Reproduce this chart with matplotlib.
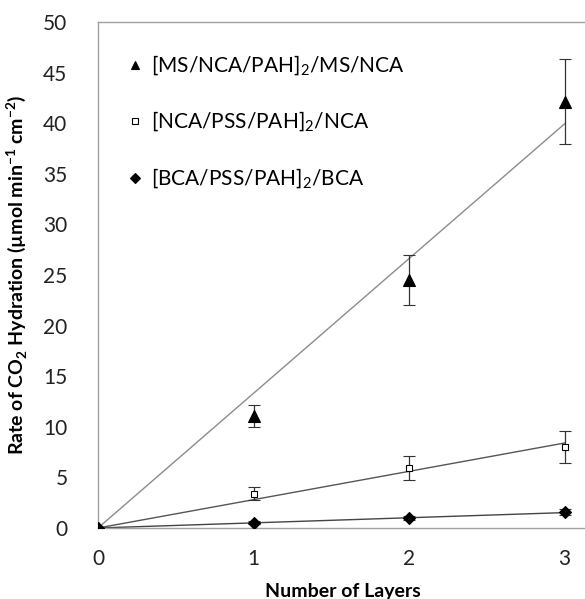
import numpy as np
import matplotlib.pyplot as plt
from matplotlib.lines import Line2D

plt.rcParams['font.family'] = ['Lato', 'DejaVu Sans']
plt.rcParams['mathtext.fontset'] = 'custom'
plt.rcParams['mathtext.rm'] = 'Lato'
plt.rcParams['mathtext.bf'] = 'Lato:bold'

layers = np.array([0, 1, 2, 3])
ms_nca = np.array([0, 11.1, 24.5, 42.1])
ms_nca_err = np.array([0, 1.1, 2.45, 4.2])
nca = np.array([0, 3.4, 5.9, 8.0])
nca_err = np.array([0, 0.65, 1.2, 1.55])
bca = np.array([0, 0.53, 0.96, 1.55])
bca_err = np.array([0, 0.15, 0.2, 0.3])

labels = ['[MS/NCA/PAH]$_\\mathregular{2}$/MS/NCA',
          '[NCA/PSS/PAH]$_\\mathregular{2}$/NCA',
          '[BCA/PSS/PAH]$_\\mathregular{2}$/BCA']


def fit_origin(x, y):
    # least squares line through the origin
    return np.sum(x * y) / np.sum(x * x)


fig = plt.figure(figsize=(5.85, 5.99), dpi=100)
ax = fig.add_axes([98 / 585, 1 - 528 / 599, 490 / 585, 506 / 599])

series = [
    (ms_nca, ms_nca_err, '^', 'black', 8, '#8c8c8c'),
    (nca, nca_err, 's', 'white', 4.5, '#555555'),
    (bca, bca_err, 'D', 'black', 6.5, '#444444'),
]
handles = []
for (y, e, m, fc, ms, lc), lab in zip(series, labels):
    k = fit_origin(layers, y)
    ax.plot(layers, k * layers, color=lc, lw=1.0, zorder=2)
    ax.errorbar(layers, y, yerr=e, fmt=m, mfc=fc, mec='black', mew=0.8,
                ms=ms, ecolor='#333333', elinewidth=0.9, capsize=4,
                capthick=0.9, zorder=3)
    handles.append(Line2D([], [], ls='none', marker=m, mfc=fc, mec='black',
                          mew=0.8, ms=ms * 0.8 if m != 's' else 4))

ax.legend(handles, labels, loc='upper left', bbox_to_anchor=(0.015, 0.975),
          frameon=False, fontsize=15, labelspacing=1.55, handletextpad=0.3,
          handlelength=1.0)

ax.set_xlim(0, 3.15)
ax.set_ylim(0, 50)
ax.set_xticks([0, 1, 2, 3])
ax.set_yticks(np.arange(0, 51, 5))
ax.tick_params(length=0, labelsize=15, colors='#222222')
ax.tick_params(axis='y', pad=22)
ax.tick_params(axis='x', pad=15)
for s in ['left', 'bottom', 'top']:
    ax.spines[s].set_color('#a0a0a0')
    ax.spines[s].set_linewidth(1.0)
ax.spines['right'].set_visible(False)

ax.set_xlabel('Number of Layers', fontsize=14, fontweight='bold', labelpad=10)
ax.set_ylabel('Rate of CO$_\\mathbf{2}$ Hydration (\u00b5mol min$^\\mathbf{-1}$ cm$^\\mathbf{-2}$)',
              fontsize=14, fontweight='bold', labelpad=10)

fig.savefig('out.png', dpi=100)
